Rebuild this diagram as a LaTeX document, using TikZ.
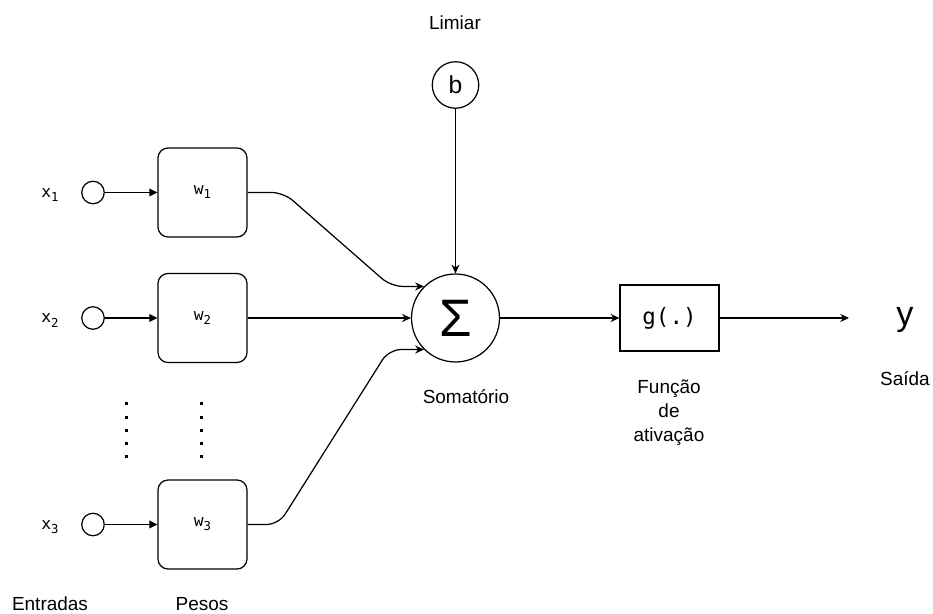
\documentclass[tikz,border=0pt]{standalone}
\usepackage{fontspec}
\setmainfont{Liberation Sans}
\setmonofont{DejaVu Sans Mono}
\usetikzlibrary{calc,positioning,arrows.meta}

\newcommand{\idx}[1]{\raisebox{-0.45ex}{\fontsize{7}{7}\selectfont #1}}

\begin{document}
\begin{tikzpicture}[x=0.02cm,y=-0.02cm,line width=0.7pt,
        entrada/.style={draw,circle,minimum size=0.45cm,inner sep=0pt},
        peso/.style={draw,rounded corners=0.2cm,minimum size=1.78cm,inner sep=0pt,
            font=\ttfamily\fontsize{9.3}{10}\selectfont},
        rotulo/.style={anchor=base,align=center,font=\fontsize{10.8}{13.6}\selectfont},
        seta/.style={-{Stealth[length=5pt,width=4.6pt]}}]
        \useasboundingbox (0,0) rectangle (933,614);

        \foreach \i/\y in
        {1/192.5,
         2/318,
         3/524.5
        }
        {
            \node[entrada] (x\i) at (93,\y) {};
            \node[peso] (w\i) at (202.5,\y) {w\idx{\i}};
            \node[anchor=base,font=\ttfamily\fontsize{9.3}{10}\selectfont] (lx\i) at (50,\y+5) {x\idx{\i}};
            \draw[-{Triangle[length=4.6pt,width=4.4pt]}] (x\i) -- (w\i);
        };

        % reticencias
        \foreach \k in {0,...,4}
        {
            \fill (124.5,402.5+13.2*\k) rectangle ++(3,3);
            \fill (200.2,402.5+13.2*\k) rectangle ++(3,3);
        };

        \node[draw,circle,minimum size=1.76cm,inner sep=0pt,font=\fontsize{30}{30}\selectfont] (soma) at (455.5,318) {Σ};
        \node[draw,circle,minimum size=0.93cm,inner sep=0pt,font=\fontsize{14}{14}\selectfont] (bias) at (455.5,85) {b};
        \node[draw,minimum width=1.98cm,minimum height=1.32cm,inner sep=0pt,
            font=\ttfamily\fontsize{12.8}{13}\selectfont] (ativ) at (669.5,318) {\raisebox{-0.2ex}{g(.)}};
        \coordinate (saida) at (849,318);
        \node[anchor=base,font=\fontsize{19.5}{20}\selectfont] (y) at (905,326) {y};

        \draw[seta,rounded corners=0.24cm] (w1.east) -- ++(36,0) -- ($(soma.135)+(-33,0)$) -- (soma.135);
        \draw[seta] (w2) -- (soma);
        \draw[seta,rounded corners=0.24cm] (w3.east) -- ++(31,0) -- ($(soma.225)+(-35,0)$) -- (soma.225);
        \draw[seta] (bias) -- (soma);
        \draw[seta] (soma) -- (ativ);
        \draw[seta] (ativ) -- (saida);

        \node[rotulo] (limiar) at (455,30) {Limiar};
        \node[rotulo] (somatorio) at (466,404) {Somatório};
        \node[rotulo,anchor=center] (funcao) at (669,413) {Função\\de\\ativação};
        \node[rotulo] (saidatxt) at (905,386) {Saída};
        \node[rotulo] (entradas) at (50,610) {Entradas};
        \node[rotulo] (pesos) at (202,610) {Pesos};
\end{tikzpicture}
\end{document}
